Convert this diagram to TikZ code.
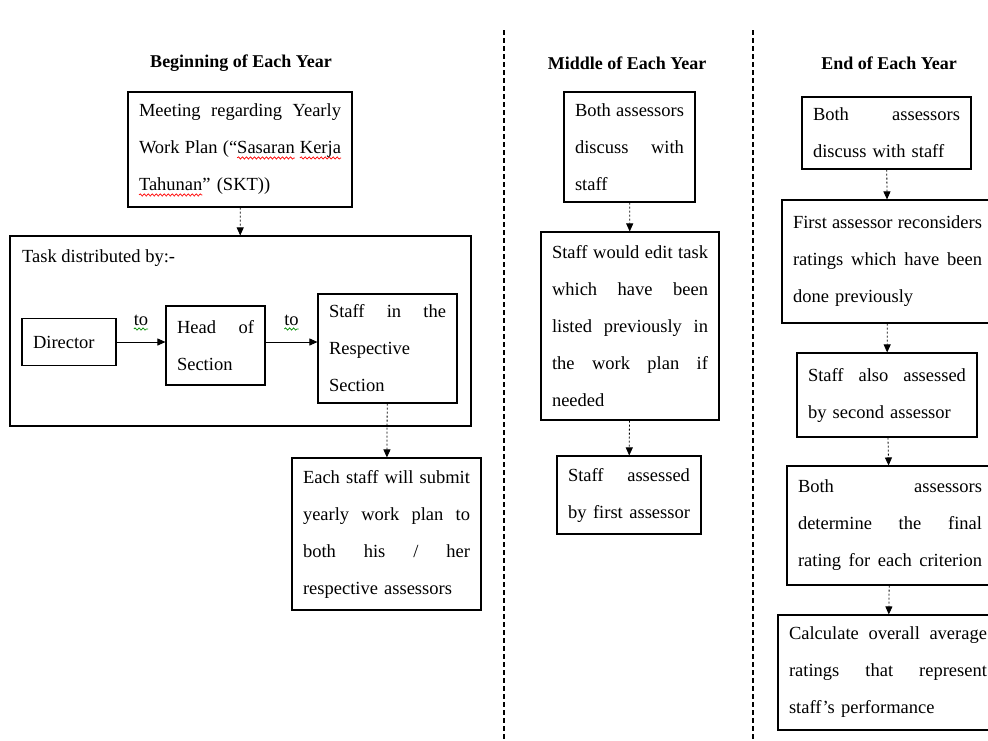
\documentclass[tikz,border=0pt]{standalone}
\usepackage{fontspec}
\setmainfont{Liberation Serif}
\usetikzlibrary{arrows.meta, decorations.pathmorphing}
\newsavebox\wavebox
\newlength\jlinewidth
\newcommand\jline[1]{\leavevmode\hbox to\jlinewidth{\spaceskip=0.25em plus 1fil\relax #1}}
\newcommand\waved[2]{\leavevmode\sbox\wavebox{#2}\rlap{\tikz[overlay, baseline=0pt, x=1pt, y=1pt]\draw[#1, -, solid, line width=0.7pt, decorate, decoration={snake, amplitude=1.1pt, segment length=4pt}] (0,-4) -- (\the\wd\wavebox,-4);}\usebox\wavebox}
\begin{document}
\begin{tikzpicture}[x=1pt, y=-1pt,
  every node/.style={font=\fontsize{18.5}{37}\selectfont},
  frame/.style={draw, line width=1.1pt},
  jw/.code={\global\jlinewidth=#1\relax},
  box/.style={frame, inner xsep=11pt, inner ysep=0pt, align=left, text width=#1, jw=#1},
  head/.style={font=\fontsize{18}{22}\selectfont\bfseries},
  flow/.style={line width=0.8pt, dash pattern=on 2pt off 2pt, -{Triangle[length=8pt,width=7pt]}},
  pass/.style={line width=0.8pt, -{Triangle[length=8pt,width=7pt]}},
  sep/.style={line width=1.2pt, dash pattern=on 5pt off 3pt}]
\useasboundingbox (0,0) rectangle (988,740);
\clip (0,0) rectangle (988,740);
\fill[white] (0,0) rectangle (988,740);
\node[head] (h1) at (241,63) {Beginning of Each Year};
\node[head] (h2) at (627,63) {Middle of Each Year};
\node[head] (h3) at (889,63) {End of Each Year};
\draw[sep] (504,30) -- (504,740);
\draw[sep] (753,30) -- (753,740);
\node[box=202pt, minimum height=115pt] (b1) at (240,149.5) {\jline{Meeting regarding Yearly}\\\jline{Work Plan (“\waved{red}{Sasaran} \waved{red}{Kerja}}\\\waved{red}{Tahunan}” (SKT))};
\node[frame, minimum width=461pt, minimum height=190pt] (b2) at (240.5,331) {};
\node[anchor=base west, inner sep=0pt] (t1) at (22,262) {Task distributed by:-};
\node[box=72pt, minimum height=47pt] (b3) at (69,342) {Director};
\node[box=77pt, minimum height=79pt] (b4) at (215.5,345.5) {\jline{Head of}\\Section};
\node[box=117pt, minimum height=109pt] (b5) at (387.5,348.5) {\jline{Staff in the}\\Respective\\Section};
\node[box=167pt, minimum height=152pt] (b6) at (386.5,534) {\jline{Each staff will submit}\\\jline{yearly work plan to}\\\jline{both his / her}\\respective assessors};
\draw[flow] (b1) -- (b2);
\draw[pass] (b3.east) -- node[midway, anchor=base, yshift=17pt, inner sep=0pt] {\waved{green!55!black}{to}} (b3.east -| b4.west);
\draw[pass] (b3.east -| b4.east) -- node[midway, anchor=base, yshift=17pt, inner sep=0pt] {\waved{green!55!black}{to}} (b3.east -| b5.west);
\draw[flow] (b5) -- (b6);
\node[box=109pt, minimum height=110pt] (m1) at (629.5,147) {\jline{Both assessors}\\\jline{discuss with}\\staff};
\node[box=156pt, minimum height=188pt] (m2) at (630,326) {\jline{Staff would edit task}\\\jline{which have been}\\\jline{listed previously in}\\\jline{the work plan if}\\needed};
\node[box=122pt, minimum height=78pt] (m3) at (629,495) {\jline{Staff assessed}\\\jline{by first assessor}};
\draw[flow] (m1) -- (m2);
\draw[flow] (m2) -- (m3);
\node[box=147pt, minimum height=72pt] (e1) at (886.5,133) {\jline{Both assessors}\\discuss with staff};
\node[box=189pt, minimum height=123pt] (e2) at (887.5,261.5) {\jline{First assessor reconsiders}\\\jline{ratings which have been}\\done previously};
\node[box=158pt, minimum height=84pt] (e3) at (887,395) {\jline{Staff also assessed}\\by second assessor};
\node[box=184pt, minimum height=119pt] (e4) at (890,525.5) {\jline{Both assessors}\\\jline{determine the final}\\\jline{rating for each criterion}};
\node[box=198pt, minimum height=115pt] (e5) at (888,672.5) {\jline{Calculate overall average}\\\jline{ratings that represent}\\staff’s performance};
\draw[flow] (e1) -- (e2);
\draw[flow] (e2) -- (e3);
\draw[flow] (e3) -- (e4);
\draw[flow] (e4) -- (e5);
\end{tikzpicture}
\end{document}
